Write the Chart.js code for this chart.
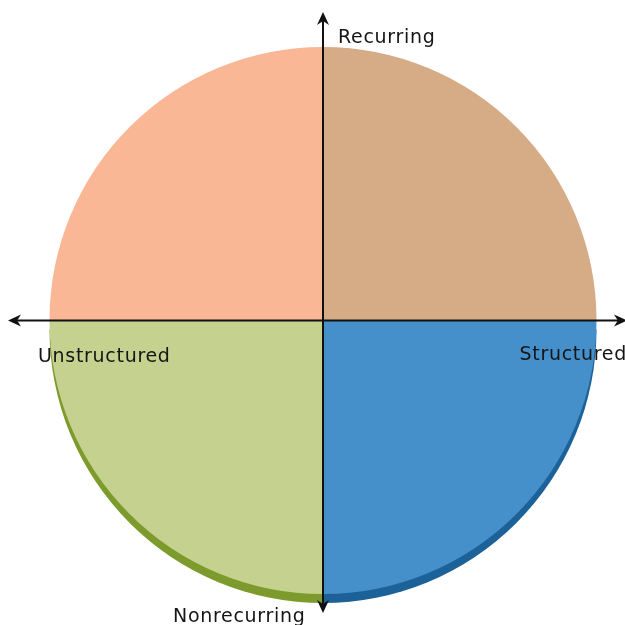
<!DOCTYPE html>
<html>
<head>
<meta charset="utf-8">
<script src="https://cdn.jsdelivr.net/npm/chart.js@4"></script>
<style>
  html, body { margin: 0; padding: 0; background: #fff; }
  #wrap { width: 625px; height: 625px; }
</style>
</head>
<body>
<div id="wrap"><canvas id="myChart"></canvas></div>
<script>
// quadrants, clockwise from the top
var quadrants = ['Recurring / Structured', 'Nonrecurring / Structured', 'Nonrecurring / Unstructured', 'Recurring / Unstructured'];
var shares = [25, 25, 25, 25];
var faceColors = ['#d5ac85', '#4590cb', '#c5d18f', '#f9b796'];
var edgeColors = [null, '#1c6299', '#7d9b2c', null];
var axisLabels = ['Recurring', 'Structured', 'Nonrecurring', 'Unstructured'];

var textColor = '#151515';
var font = '19px "DejaVu Sans", sans-serif';

// thin darker rim under the lower half of the pie
var rimPlugin = {
  id: 'rim',
  beforeDatasetsDraw: function (chart) {
    var ctx = chart.ctx;
    var meta = chart.getDatasetMeta(0);
    meta.data.forEach(function (arc, i) {
      if (!edgeColors[i]) return;
      ctx.save();
      ctx.translate(0, 9);
      ctx.fillStyle = edgeColors[i];
      ctx.beginPath();
      ctx.moveTo(arc.x, arc.y);
      ctx.arc(arc.x, arc.y, arc.outerRadius, arc.startAngle, arc.endAngle);
      ctx.closePath();
      ctx.fill();
      ctx.restore();
    });
  }
};

function arrowHead(ctx, x, y, dx, dy) {
  var len = 13, half = 6;
  var px = -dy, py = dx;
  ctx.beginPath();
  ctx.moveTo(x, y);
  ctx.lineTo(x - dx * len + px * half, y - dy * len + py * half);
  ctx.lineTo(x - dx * len * 0.7, y - dy * len * 0.7);
  ctx.lineTo(x - dx * len - px * half, y - dy * len - py * half);
  ctx.closePath();
  ctx.fill();
}

// the two crossing axes with their arrows and labels
var axesPlugin = {
  id: 'crossAxes',
  afterDatasetsDraw: function (chart) {
    var ctx = chart.ctx;
    var arc = chart.getDatasetMeta(0).data[0];
    var cx = arc.x, cy = arc.y;
    var w = chart.width, h = chart.height;
    ctx.save();
    ctx.strokeStyle = '#111';
    ctx.fillStyle = '#111';
    ctx.lineWidth = 2;
    ctx.beginPath();
    ctx.moveTo(cx, 18);
    ctx.lineTo(cx, h - 18);
    ctx.moveTo(14, cy);
    ctx.lineTo(w - 4, cy);
    ctx.stroke();
    arrowHead(ctx, cx, 12, 0, -1);
    arrowHead(ctx, cx, h - 12, 0, 1);
    arrowHead(ctx, 8, cy, -1, 0);
    arrowHead(ctx, w + 2, cy, 1, 0);

    ctx.fillStyle = textColor;
    ctx.font = font;
    ctx.letterSpacing = '0.7px';
    ctx.textBaseline = 'middle';
    ctx.textAlign = 'left';
    ctx.fillText(axisLabels[0], cx + 15, 38);
    ctx.fillText(axisLabels[3], 38, cy + 37);
    ctx.fillText(axisLabels[2], 173, h - 8);
    ctx.textAlign = 'right';
    ctx.fillText(axisLabels[1], w + 2, cy + 35);
    ctx.restore();
  }
};

var ctx = document.getElementById('myChart').getContext('2d');
window.myPie = new Chart(ctx, {
  type: 'pie',
  data: {
    labels: quadrants,
    datasets: [{
      data: shares,
      backgroundColor: faceColors,
      borderWidth: 0
    }]
  },
  options: {
    responsive: true,
    maintainAspectRatio: false,
    animation: false,
    layout: {
      padding: { left: 48, right: 27, top: 47, bottom: 31 }
    },
    plugins: {
      legend: { display: false },
      tooltip: { enabled: false }
    }
  },
  plugins: [rimPlugin, axesPlugin]
});
</script>
</body>
</html>
